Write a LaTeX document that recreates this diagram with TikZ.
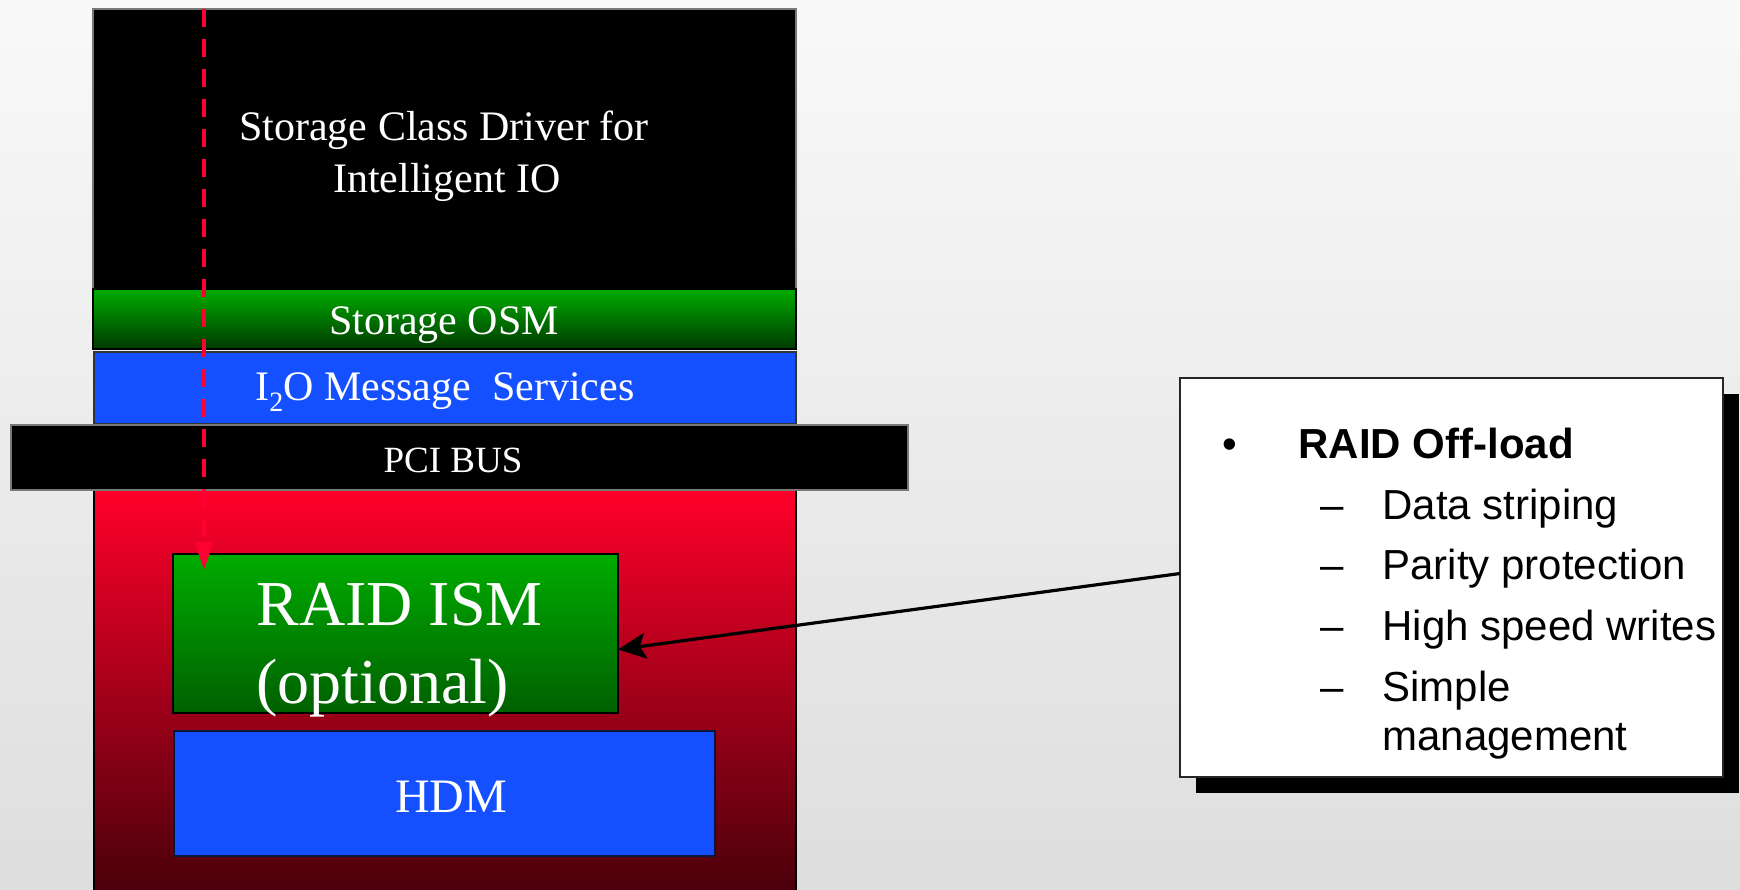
\documentclass[tikz,border=0pt]{standalone}
\usepackage{fontspec}
\setmainfont{Liberation Serif}
\newfontfamily\calloutfont{Liberation Sans}
\usetikzlibrary{arrows.meta,shadows,calc}

\definecolor{bgtop}{RGB}{249,249,249}
\definecolor{bgbottom}{RGB}{222,222,222}
\definecolor{osmtop}{RGB}{0,172,0}
\definecolor{osmbottom}{RGB}{0,58,0}
\definecolor{msgblue}{RGB}{20,80,255}
\definecolor{cardtop}{RGB}{255,0,42}
\definecolor{cardbottom}{RGB}{72,0,10}
\definecolor{ismtop}{RGB}{0,172,0}
\definecolor{ismbottom}{RGB}{0,96,0}
\definecolor{pathred}{RGB}{255,0,50}
\definecolor{edgegray}{RGB}{120,120,120}
\definecolor{hdmedge}{RGB}{10,20,60}

\begin{document}
\begin{tikzpicture}[x=0.5pt,y=-0.5pt,
  layer/.style={anchor=north west, inner sep=0pt, outer sep=0pt},
  wlabel/.style={text=white, inner sep=0pt, anchor=base},
  blabel/.style={text=black, inner sep=0pt, anchor=base west, font=\calloutfont\fontsize{21pt}{25pt}\selectfont},
]
% page and background
\useasboundingbox (0,0) rectangle (1740,889);
\fill[top color=bgtop, bottom color=bgbottom] (0,0) rectangle (1740,889);

% host-side stack
\node[layer, fill=black, draw=edgegray, line width=0.6pt,
      minimum width=351.5pt, minimum height=140pt] (driver) at (93,9) {};
\node[layer, top color=osmtop, bottom color=osmbottom, draw=black, line width=1pt,
      minimum width=351.5pt, minimum height=30pt] (osm) at (93,289) {};
\node[layer, fill=msgblue, draw=black!80, line width=0.6pt,
      minimum width=351pt, minimum height=36pt] (msg) at (94,352) {};

% IOP card
\node[layer, top color=cardtop, bottom color=cardbottom, draw=black, line width=0.8pt,
      minimum width=351pt, minimum height=202pt] (card) at (94,490) {};
\node[layer, fill=black, draw=edgegray, line width=0.6pt,
      minimum width=448.5pt, minimum height=32.5pt] (pci) at (11,425) {};
\node[layer, top color=ismtop, bottom color=ismbottom, draw=black, line width=1.4pt,
      minimum width=222.5pt, minimum height=79.5pt] (raid) at (173,554) {};
\node[layer, fill=msgblue, draw=hdmedge, line width=1.4pt,
      minimum width=270.5pt, minimum height=62.5pt] (hdm) at (174,731) {};

% labels
\node[wlabel, font=\fontsize{21pt}{25pt}\selectfont] (drvA) at (444,140) {Storage Class Driver for};
\node[wlabel, font=\fontsize{21pt}{25pt}\selectfont] (drvB) at (447,192) {Intelligent IO};
\node[wlabel, font=\fontsize{21pt}{25pt}\selectfont] (osmtext) at (444,334) {Storage OSM};
\node[wlabel, font=\fontsize{21pt}{25pt}\selectfont] (msgtext) at (445,400)
  {I\raisebox{-0.28em}{\fontsize{14pt}{14pt}\selectfont 2}O Message~ Services};
\node[wlabel, font=\fontsize{18.5pt}{22pt}\selectfont] (pcitext) at (453,472) {PCI BUS};
\node[wlabel, anchor=base west, font=\fontsize{32pt}{36pt}\selectfont] (raidA) at (256,625) {RAID ISM};
\node[wlabel, anchor=base west, font=\fontsize{32pt}{36pt}\selectfont] (raidB) at (256,703) {(optional)};
\node[wlabel, font=\fontsize{24pt}{28pt}\selectfont] (hdmtext) at (451,812) {HDM};

% request path through the stack
\coordinate (pathtop) at (204,9);
\coordinate (pathend) at (204,570);
\draw[pathred, line width=2pt, dash pattern=on 9pt off 6pt,
      -{Triangle[length=14pt,width=9pt]}] (pathtop) -- (pathend);

% feature callout
\node[layer, fill=white, draw=black!85, line width=1pt,
      drop shadow={shadow xshift=8pt, shadow yshift=-8pt, opacity=1, fill=black},
      minimum width=271.5pt, minimum height=199.5pt] (callout) at (1180,378) {};
\node[blabel] (bullet) at (1222,458) {•};
\node[blabel, font=\calloutfont\bfseries\fontsize{21pt}{25pt}\selectfont] (head) at (1298,458) {RAID Off-load};
\node[blabel] (d1) at (1320,519) {–};
\node[blabel] (i1) at (1382,519) {Data striping};
\node[blabel] (d2) at (1320,579) {–};
\node[blabel] (i2) at (1382,579) {Parity protection};
\node[blabel] (d3) at (1320,640) {–};
\node[blabel] (i3) at (1382,640) {High speed writes};
\node[blabel] (d4) at (1320,701) {–};
\node[blabel] (i4) at (1382,701) {Simple};
\node[blabel] (i4b) at (1382,750) {management};

% pointer from callout to the RAID ISM
\draw[black, line width=1.6pt, -{Stealth[length=14pt,width=13pt,inset=3pt]}]
  ([yshift=2pt]callout.west) -- ([yshift=-8pt]raid.east);
\end{tikzpicture}
\end{document}
